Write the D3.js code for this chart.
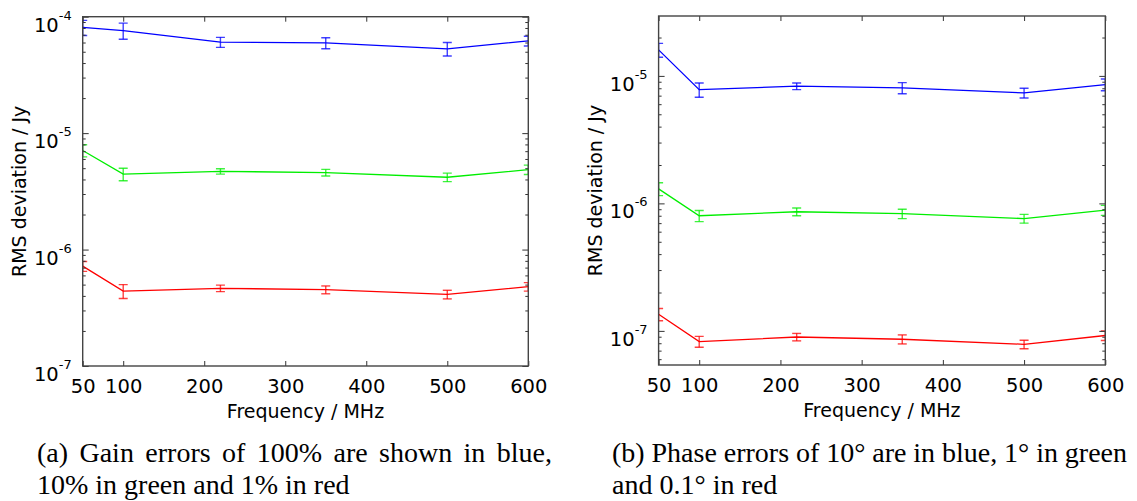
<!DOCTYPE html>
<html>
<head>
<meta charset="utf-8">
<script src="https://cdn.jsdelivr.net/npm/d3@7"></script>
<style>
  body { margin: 0; background: #fff; }
</style>
</head>
<body>
<div id="chart"></div>
<script>
// frequencies (MHz) at which the simulations were run
const freqs = [50, 100, 220, 350, 500, 600]
const xTicks = [50, 100, 200, 300, 400, 500, 600]

// (a) gain errors: 100% blue, 10% green, 1% red
const gainBlue = [8.1e-5, 7.6e-5, 6.05e-5, 5.95e-5, 5.3e-5, 6.2e-5]
const gainBlueErr = [1.2e-5, 1.2e-5, 0.6e-5, 0.65e-5, 0.7e-5, 0.6e-5]
const gainGreen = [7.1e-6, 4.45e-6, 4.7e-6, 4.58e-6, 4.18e-6, 4.86e-6]
const gainGreenErr = [0.85e-6, 0.55e-6, 0.25e-6, 0.3e-6, 0.35e-6, 0.45e-6]
const gainRed = [7.2e-7, 4.4e-7, 4.65e-7, 4.52e-7, 4.12e-7, 4.8e-7]
const gainRedErr = [0.7e-7, 0.6e-7, 0.3e-7, 0.35e-7, 0.35e-7, 0.4e-7]
const gainYTicks = [1e-7, 1e-6, 1e-5, 1e-4]

// (b) phase errors: 10 deg blue, 1 deg green, 0.1 deg red
const phaseBlue = [1.6e-5, 7.8e-6, 8.3e-6, 8.05e-6, 7.35e-6, 8.55e-6]
const phaseBlueErr = [0.2e-5, 1.0e-6, 0.5e-6, 0.8e-6, 0.65e-6, 0.9e-6]
const phaseGreen = [1.3e-6, 8.0e-7, 8.6e-7, 8.3e-7, 7.6e-7, 8.85e-7]
const phaseGreenErr = [0.15e-6, 0.8e-7, 0.6e-7, 0.7e-7, 0.6e-7, 0.8e-7]
const phaseRed = [1.35e-7, 8.25e-8, 8.95e-8, 8.6e-8, 7.85e-8, 9.2e-8]
const phaseRedErr = [0.15e-7, 0.8e-8, 0.6e-8, 0.7e-8, 0.6e-8, 0.8e-8]
const phaseYTicks = [1e-7, 1e-6, 1e-5]

const xLabel = 'Frequency / MHz'
const yLabel = 'RMS deviation / Jy'
const captionA = ['(a) Gain errors of 100% are shown in blue,', '10% in green and 1% in red']
const captionB = ['(b) Phase errors of 10° are in blue, 1° in green', 'and 0.1° in red']

const width = 1137
const height = 501

const svg = d3
  .select('#chart')
  .append('svg')
  .attr('width', width)
  .attr('height', height)
  .style('font-family', 'DejaVu Sans')

svg.append('rect').attr('width', width).attr('height', height).attr('fill', '#fff')

function drawPanel(p) {
  const x = d3.scaleLinear().domain([50, 600]).range([p.left, p.right])
  const y = d3.scaleLog().domain(p.yDomain).range([p.bottom, p.top])
  const g = svg.append('g')

  const minors = y.ticks().filter(t => !p.majors.some(m => Math.abs(m - t) / m < 1e-6))

  // clip so the end error bars are cut by the frame
  g.append('clipPath')
    .attr('id', p.id)
    .append('rect')
    .attr('x', p.left)
    .attr('y', p.top)
    .attr('width', p.right - p.left)
    .attr('height', p.bottom - p.top)

  const plot = g.append('g').attr('clip-path', `url(#${p.id})`)

  p.series.forEach(s => {
    const pts = freqs.map((f, i) => ({ f: f, v: s.values[i], e: s.errs[i] }))

    plot.append('path')
      .datum(pts)
      .attr('fill', 'none')
      .attr('stroke', s.color)
      .attr('stroke-width', 1.3)
      .attr('d', d3.line().x(d => x(d.f)).y(d => y(d.v)))

    const bars = plot.selectAll(null)
      .data(pts)
      .enter()
      .append('g')
      .attr('stroke', s.color)
      .attr('stroke-opacity', 0.75)
      .attr('stroke-width', 1.4)

    bars.append('line')
      .attr('x1', d => x(d.f)).attr('x2', d => x(d.f))
      .attr('y1', d => y(d.v - d.e)).attr('y2', d => y(d.v + d.e))
    bars.append('line')
      .attr('x1', d => x(d.f) - 4.5).attr('x2', d => x(d.f) + 4.5)
      .attr('y1', d => y(d.v - d.e)).attr('y2', d => y(d.v - d.e))
    bars.append('line')
      .attr('x1', d => x(d.f) - 4.5).attr('x2', d => x(d.f) + 4.5)
      .attr('y1', d => y(d.v + d.e)).attr('y2', d => y(d.v + d.e))
  })

  // axes, ticks pointing inwards on all four sides
  const bottomAxis = g.append('g')
    .attr('transform', `translate(0,${p.bottom})`)
    .call(d3.axisBottom(x).tickValues(xTicks).tickSizeInner(-5).tickSizeOuter(0))
  bottomAxis.selectAll('text')
    .attr('y', 27)
    .attr('dy', null)
    .style('font-size', '19.5px')
    .style('font-family', 'DejaVu Sans')
    .attr('fill', '#000')

  g.append('g')
    .attr('transform', `translate(0,${p.top})`)
    .call(d3.axisTop(x).tickValues(xTicks).tickSizeInner(-5).tickSizeOuter(0).tickFormat(''))

  g.append('g')
    .attr('transform', `translate(${p.left},0)`)
    .call(d3.axisLeft(y).tickValues(p.majors).tickSizeInner(-6).tickSizeOuter(0).tickFormat(''))
  g.append('g')
    .attr('transform', `translate(${p.left},0)`)
    .call(d3.axisLeft(y).tickValues(minors).tickSizeInner(-3).tickSizeOuter(0).tickFormat(''))
  g.append('g')
    .attr('transform', `translate(${p.right},0)`)
    .call(d3.axisRight(y).tickValues(p.majors).tickSizeInner(-6).tickSizeOuter(0).tickFormat(''))
  g.append('g')
    .attr('transform', `translate(${p.right},0)`)
    .call(d3.axisRight(y).tickValues(minors).tickSizeInner(-3).tickSizeOuter(0).tickFormat(''))

  g.selectAll('.domain').remove()
  g.selectAll('.tick line').attr('stroke', '#333')

  // y tick labels as 10^n
  const yl = g.selectAll(null)
    .data(p.majors)
    .enter()
    .append('text')
    .attr('x', p.left - 11)
    .attr('y', d => y(d) + 15)
    .attr('text-anchor', 'end')
    .style('font-size', '19.5px')
  yl.append('tspan').text('10')
  yl.append('tspan')
    .attr('dy', -12)
    .style('font-size', '13px')
    .text(d => Math.round(Math.log10(d)))

  // frame
  g.append('rect')
    .attr('x', p.left)
    .attr('y', p.top)
    .attr('width', p.right - p.left)
    .attr('height', p.bottom - p.top)
    .attr('fill', 'none')
    .attr('stroke', '#444')
    .attr('stroke-width', 1.4)

  g.append('text')
    .attr('x', (p.left + p.right) / 2)
    .attr('y', p.bottom + 52)
    .attr('text-anchor', 'middle')
    .style('font-size', '19px')
    .text(xLabel)

  g.append('text')
    .attr('transform', `translate(${p.left - 57},${(p.top + p.bottom) / 2}) rotate(-90)`)
    .attr('text-anchor', 'middle')
    .style('font-size', '19px')
    .text(yLabel)
}

drawPanel({
  id: 'clipA', left: 82.7, right: 528.3, top: 16.7, bottom: 366,
  yDomain: [1e-7, 1e-4], majors: gainYTicks,
  series: [
    { values: gainBlue, errs: gainBlueErr, color: '#0000ff' },
    { values: gainGreen, errs: gainGreenErr, color: '#00ee00' },
    { values: gainRed, errs: gainRedErr, color: '#ff0000' }
  ]
})

drawPanel({
  id: 'clipB', left: 658.6, right: 1105.3, top: 16, bottom: 365,
  yDomain: [5.4e-8, 2.95e-5], majors: phaseYTicks,
  series: [
    { values: phaseBlue, errs: phaseBlueErr, color: '#0000ff' },
    { values: phaseGreen, errs: phaseGreenErr, color: '#00ee00' },
    { values: phaseRed, errs: phaseRedErr, color: '#ff0000' }
  ]
})

// captions, first line justified like in the paper
function caption(lines, x0, x1) {
  const fs = 28
  const t = svg.append('g')
    .style('font-family', 'Liberation Serif')
    .style('font-size', fs + 'px')
    .attr('fill', '#000')

  const words = lines[0].split(' ')
  const nodes = words.map(w => t.append('text').attr('y', 462).text(w))
  const widths = nodes.map(n => n.node().getComputedTextLength())
  const gap = Math.max(fs * 0.2, (x1 - x0 - d3.sum(widths)) / (words.length - 1))
  let cx = x0
  nodes.forEach((n, i) => {
    n.attr('x', cx)
    cx += widths[i] + gap
  })

  t.append('text').attr('x', x0).attr('y', 494).text(lines[1])
}

caption(captionA, 37, 552)
caption(captionB, 612, 1127)
</script>
</body>
</html>
